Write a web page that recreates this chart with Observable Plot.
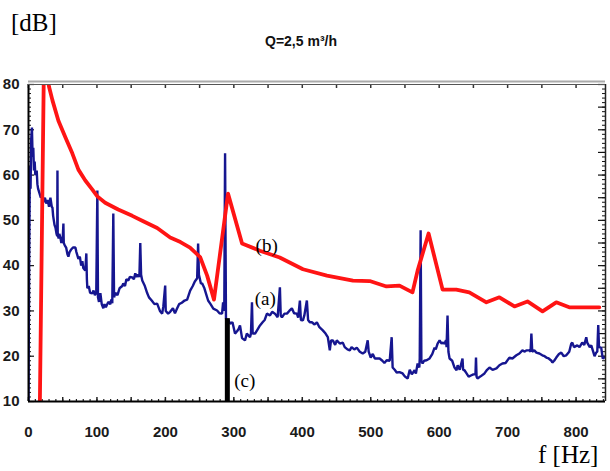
<!DOCTYPE html>
<html>
<head>
<meta charset="utf-8">
<script src="https://cdn.jsdelivr.net/npm/d3@7"></script>
<script src="https://cdn.jsdelivr.net/npm/@observablehq/plot@0.6"></script>
<style>
  body { margin: 0; background: #fff; }
  #wrap { position: relative; width: 610px; height: 471px; overflow: hidden; }
  .ov { position: absolute; white-space: nowrap; color: #000; }
  #ylab { left: 11px; top: 9px; font: 25px "Liberation Serif", serif; }
  #title { left: 0; width: 602px; top: 33px; text-align: center; font: bold 14px "Liberation Sans", Arial, sans-serif; color: #111; }
  #xlab { left: 538px; top: 441px; font: 25px "Liberation Serif", serif; }
</style>
</head>
<body>
<div id="wrap">
  <div class="ov" id="ylab">[dB]</div>
  <div class="ov" id="title">Q=2,5 m³/h</div>
  <div class="ov" id="xlab">f [Hz]</div>
</div>
<script>
// ---- data: curve (a) measured spectrum (blue) ----
const aFreq = [0,1,2,3,4,5,6,7,8,9,10,12,13,14,16,18,20,22,24,26,28,30,32,34,35,36,37,38,39.4,41,42,42.3,42.7,44,45,46.6,48,50,51,51.5,53,55,56.9,58.3,60,62,65,68.5,70,72.9,75,77,78.7,80,83,84.5,85.3,86,88,90,93.3,95,97,99,100.6,101.5,103,105,107,109.3,111,113,116.6,119.5,121,122.4,123.9,125,126.8,130,133,137,138.5,141,143,145.8,148,151.6,154,156,158,160,162,163.3,164.5,166.2,170,173.5,176,180,184,188,192,195.3,197,199.7,200.5,204,207,211,214,217.2,220,224,228,231.8,234,236.2,240,243,246.4,247.8,249,252,253.6,257,260,262.4,266,270,275.5,279,282.8,284.3,286,287.2,288.5,290,292,294.5,298,301.7,304.7,307,309,312,316.3,319,323.6,325,326.5,327.5,331,335,338.2,342,345,348.4,352.8,356,360,364,367.3,368.5,370.3,374,377.6,381,384.8,388,392.1,394,396.5,398,400.9,403,406.7,408.5,411,414,418,421.3,425,430,434,437.3,440.2,442,444.6,448,450.4,454.8,459.2,462,466,469.4,472,476,479.6,484,488.3,492,495.6,497,500,503,506,509,513,517,520,523.3,527.7,530.6,532,535,537.9,542,546.6,550,554,557,560,564.1,566,568.5,571,571.6,572.9,574,575.8,578,581.6,586,590,593.3,595,597.7,600.6,603.5,605,607.9,610,610.8,612.2,613.5,615.2,619,622.4,625.4,627,630,634.1,635,637,640,643,647.2,650,653,653.8,654.6,656,660,666.2,670,673.5,678,683.7,688,692.4,697,702.6,707,712.8,717.2,721.6,725,727.4,731.8,733.5,734.7,736,739,742,746.4,750.7,754,756.6,760,764,765.3,768,771.1,775,778.4,782,785.7,790,793,794.5,797,801.8,805,809,812,814.9,816.3,820,822.2,825,827,829.4,831,832.4,833.5,836.7,839,841];
const aDb = [10,42,62,57,68,70.5,64,66,61,63,60,61,58,57,56,55,55.5,54,55,53.7,54.5,53,55,53,52.8,51,50,49,48.4,47,46.5,61,47,46,47,46.2,45,46,49.3,45,44.5,44,42.5,42,43,43.5,44,44,43,41.5,42,40,41,39.5,38.9,42.7,37,35,35.5,34,33.9,34.5,33.5,34,56.6,33,32,33.9,31.5,30.6,31.5,30.8,32,31.5,32.5,31.7,51.5,33,34,33.5,35,35.5,36.1,35.5,37,36.7,37.5,37.4,37,38.3,37.5,38,37.5,45,38,36.7,35.5,33.9,33,32.3,31.5,31.6,30,29.4,31,35.6,30,29.4,29.8,30.6,29.5,30.6,31.5,31.8,32.3,32.5,33.5,34.5,35.5,36.5,37.2,44.9,38,36,36.1,35,33.5,32.3,31.5,30.5,30.1,29.5,29.4,31.9,30,64.8,28.5,27.2,28,27.2,27.5,25,25.5,26,26.8,24,23.5,25,24.2,25,31.9,25,25,26,26.8,27.5,28,29.4,29,29.8,29.4,28.6,35.2,29,28.6,29.4,29.4,30,30.6,29.5,29.4,28.5,32.3,28,27.9,29,32.3,28,27.5,27.5,27,27.5,26.4,25.7,25,24.2,21.3,23.5,23.5,22.5,23.5,22.8,23,22,21.5,21.3,22,21.5,21.9,21,20.6,21,23.5,21,19.7,20.5,19.5,19.5,19.5,19,18.5,19.1,19,24.2,17.5,17,16.4,16.5,16.2,15.5,15.1,17,16,16.9,16.2,18.4,17.5,19.5,47.8,19,18.4,19,19.1,19.5,20.5,21.9,21.5,22.8,23.5,22.8,23,22.8,23.5,22,29,21,19.5,19,17.5,16.9,18,17,19.5,17,16.9,16.2,15.5,15.8,16,16,19.7,15.5,15.1,15.5,16.2,17,17.5,17,17.3,18,18.4,18.5,19.7,19.5,20.2,20.6,21.3,21,21.3,21.3,21,25,21,21.3,20.8,20.6,20.2,20,19.7,19.5,19,18.6,19,19.7,20.5,20.8,20,20.2,21,22.8,23,22,22.4,22,23,22.5,24.2,23,22,22.4,21,20,20.8,21,26.9,22,21.9,19.5,19.7];

// ---- data: curve (b) (red) ----
const bFreq = [16,22.5,27,30,35,43.7,54,64,72.9,83,93.3,100.6,112,131,151.6,167.6,188,207,222,236,250.7,261,271,291.5,312,338,367,401,436,474,498.5,523,542,561,568.5,584.5,605,625,644,669,688,710,729,751,771,790,834];
const bDb = [2,84,82,79.5,76.5,72,68.3,64.8,61.2,58.8,56.8,55.3,53.9,52.4,51,49.8,48.3,46.2,45.2,44,41.9,37.8,32.5,55.9,44.9,43.3,41.8,39.2,37.8,36.7,36.6,35.4,35.6,34.1,38.9,47.1,34.7,34.7,34.1,31.9,33.0,31.0,32.1,29.9,31.9,30.8,30.8];

// ---- data: (c) bar ----
const cFreq = [290.5];
const cTop = [28.3];

// ---- annotations ----
const noteText = ["(a)", "(b)", "(c)"];
const noteFreq = [346, 348, 316];
const noteDb = [32.6, 44.3, 14.5];

// ---- tick labels ----
const xTickVals = [0, 100, 200, 300, 400, 500, 600, 700, 800];
const yTickVals = [10, 20, 30, 40, 50, 60, 70, 80];

const FW = 577, FH = 317; // frame size in px
const minorY = d3.range(10, 81, 1);
const midY = d3.range(10, 81, 5);
const minorX = d3.range(0, 841, 10);
const midX = d3.range(0, 841, 50);

const chart = Plot.plot({
  width: 610,
  height: 471,
  marginLeft: 28,
  marginRight: 5,
  marginTop: 84,
  marginBottom: 70,
  x: {domain: [0, 843], axis: null, label: null},
  y: {domain: [10, 80], axis: null, label: null},
  style: {fontFamily: "Liberation Sans, Arial, sans-serif", background: "white"},
  marks: [
    // frame inner ticks
    Plot.tickY(minorY, {y: d => d, insetRight: FW - 3, stroke: "#111", strokeWidth: 1}),
    Plot.tickY(yTickVals, {y: d => d, insetRight: FW - 6, stroke: "#111", strokeWidth: 1.2}),
    Plot.tickY(minorY, {y: d => d, insetLeft: FW - 3, stroke: "#111", strokeWidth: 1}),
    Plot.tickY(midY, {y: d => d, insetLeft: FW - 7, stroke: "#111", strokeWidth: 1.2}),
    Plot.tickX(minorX, {x: d => d, insetTop: FH - 2, stroke: "#222", strokeWidth: 1.2}),
    Plot.tickX(midX, {x: d => d, insetTop: FH - 4, stroke: "#222", strokeWidth: 1.5}),
    Plot.tickX(midX, {x: d => d, insetBottom: FH - 4, stroke: "#333", strokeWidth: 1.5}),
    // curves
    Plot.line(aFreq.map((f, i) => ({f, v: aDb[i]})), {x: "f", y: "v", stroke: "#161690", strokeWidth: 2.4, clip: true, strokeLinejoin: "miter"}),
    Plot.line(bFreq.map((f, i) => ({f, v: bDb[i]})), {x: "f", y: "v", stroke: "#ff1414", strokeWidth: 3.8, clip: true, strokeLinejoin: "round"}),
    Plot.ruleX(cFreq.map((f, i) => ({f, t: cTop[i]})), {x: "f", y1: 10, y2: "t", stroke: "#000", strokeWidth: 5}),
    // annotations
    Plot.text(noteText.map((t, i) => ({t, f: noteFreq[i], v: noteDb[i]})), {x: "f", y: "v", text: "t", fontFamily: "Liberation Serif, serif", fontSize: 19, fill: "#000"}),
    // frame lines
    Plot.ruleX([0], {stroke: "#000", strokeWidth: 2}),
    Plot.ruleX([843], {stroke: "#222", strokeWidth: 1.5}),
    Plot.ruleY([10], {stroke: "#000", strokeWidth: 2}),
    Plot.ruleY([80], {stroke: "#555", strokeWidth: 1}),
    Plot.ruleY([80], {stroke: "#aaa", strokeWidth: 2, dy: -3}),
    // axes labels
    Plot.axisX(xTickVals, {tickSize: 0, tickPadding: 25, fontSize: 15, fontWeight: "bold", fill: "#1a1a1a", label: null}),
    Plot.axisY(yTickVals, {tickSize: 0, tickPadding: 9, fontSize: 15, fontWeight: "bold", fill: "#1a1a1a", label: null})
  ]
});
document.getElementById("wrap").prepend(chart);
</script>
</body>
</html>
